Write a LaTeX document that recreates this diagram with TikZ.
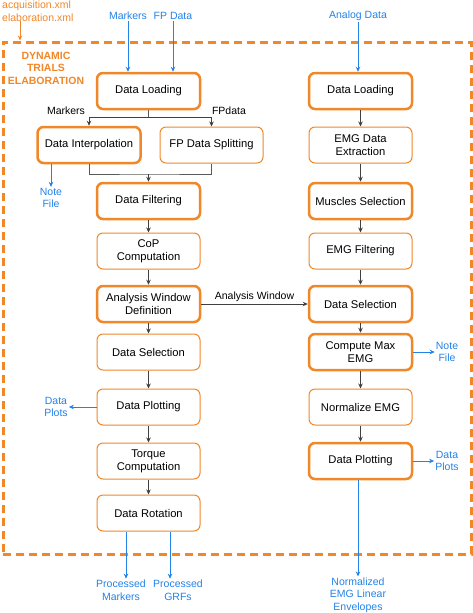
\documentclass[tikz,border=0pt]{standalone}
\usepackage{fontspec}
\setmainfont{Liberation Sans}
\usetikzlibrary{positioning,arrows.meta,shapes}
\definecolor{elabor}{RGB}{240,135,40}
\definecolor{elabblue}{RGB}{35,130,230}

\begin{document}
\begin{tikzpicture}[
  x=1pt, y=-1pt,
  font=\fontsize{11.2}{13}\selectfont,
  proc/.style={rectangle, rounded corners=6pt, draw=elabor, line width=1pt,
               minimum height=36pt, minimum width=103pt, inner sep=2pt, fill=white, align=center},
  keyproc/.style={proc, line width=2.5pt},
  io/.style={text=elabblue, align=center, inner sep=1pt, font=\fontsize{10.5}{12.5}\selectfont},
  tag/.style={inner sep=1pt, font=\fontsize{10.5}{12.5}\selectfont},
  flow/.style={-{Stealth[length=5pt,width=4.5pt]}, draw=black!75, line width=0.8pt},
  link/.style={draw=black!65, line width=0.8pt},
  ioflow/.style={-{Stealth[length=5pt,width=4.5pt]}, draw=elabblue, line width=0.8pt},
  xmlflow/.style={-{Stealth[length=5pt,width=4.5pt]}, draw=elabor, line width=0.8pt},
  frame/.style={draw=elabor, line width=3pt, dash pattern=on 8pt off 5pt}
]
\useasboundingbox (0,0) rectangle (473,613);

% outer frame and header
\node[frame, minimum width=468pt, minimum height=512pt, inner sep=0pt] (frame) at (237,298) {};
\node[text=elabor, align=left, anchor=west, inner sep=0pt,
      font=\fontsize{10.5}{12.5}\selectfont] (xmlfiles) at (2,11) {acquisition.xml\\elaboration.xml};
\node[text=elabor, align=center, inner sep=0pt,
      font=\fontsize{10.5}{12.5}\selectfont\bfseries] (title) at (46,68) {DYNAMIC\\TRIALS\\ELABORATION};
\draw[xmlflow] (xmlfiles.south -| 20,0) -- (frame.north -| 20,0);

% force plate / marker chain
\node[keyproc] (lload)   at (148.5, 91) {Data Loading};
\node[keyproc] (interp)  at (89,  145)  {Data Interpolation};
\node[proc]    (fpsplit) at (211.5,145) {FP Data Splitting};
\node[keyproc] (lfilt)   at (148.5,201) {Data Filtering};
\node[proc]    (cop)     at (148.5,251) {CoP\\Computation};
\node[keyproc] (awd)     at (148.5,304) {Analysis Window\\Definition};
\node[proc]    (lsel)    at (148.5,352) {Data Selection};
\node[proc]    (lplot)   at (148.5,407) {Data Plotting};
\node[proc]    (torque)  at (148.5,461) {Torque\\Computation};
\node[proc]    (rotate)  at (148.5,513) {Data Rotation};

% EMG chain
\node[keyproc] (rload)   at (360.5, 91) {Data Loading};
\node[proc]    (extract) at (360.5,145) {EMG Data\\Extraction};
\node[keyproc] (muscles) at (360.5,201) {Muscles Selection};
\node[proc]    (efilt)   at (360.5,251) {EMG Filtering};
\node[keyproc] (rsel)    at (360.5,304) {Data Selection};
\node[keyproc] (maxemg)  at (360.5,352) {Compute Max\\EMG};
\node[proc]    (norm)    at (360.5,407) {Normalize EMG};
\node[keyproc] (rplot)   at (360.5,461) {Data Plotting};

% inputs
\node[io] (inmark)   at (128,16) {Markers};
\node[io] (infp)     at (173,16) {FP Data};
\node[io] (inanalog) at (358,16) {Analog Data};
\draw[ioflow] (inmark) -- (lload.north -| inmark);
\draw[ioflow] (infp) -- (lload.north -| infp);
\draw[ioflow] (inanalog) -- (rload.north -| inanalog);

% split and merge
\coordinate (splitpt) at (148.5,117);
\coordinate (mergept) at (148.5,174);
\draw[link] (lload) -- (splitpt);
\draw[flow] (splitpt) -| (interp);
\draw[flow] (splitpt) -| (fpsplit);
\node[tag, anchor=south] (tmark) at (66,116) {Markers};
\node[tag, anchor=south] (tfp)   at (229,116) {FPdata};
\draw[link] (interp.south) |- (mergept) -| (fpsplit.south);
\draw[flow] (mergept) -- (lfilt);

\draw[flow] (lfilt) -- (cop);
\draw[flow] (cop) -- (awd);
\draw[flow] (awd) -- (lsel);
\draw[flow] (lsel) -- (lplot);
\draw[flow] (lplot) -- (torque);
\draw[flow] (torque) -- (rotate);

\draw[flow] (rload) -- (extract);
\draw[flow] (extract) -- (muscles);
\draw[flow] (muscles) -- (efilt);
\draw[flow] (efilt) -- (rsel);
\draw[flow] (rsel) -- (maxemg);
\draw[flow] (maxemg) -- (norm);
\draw[flow] (norm) -- (rplot);

\draw[flow] (awd) -- node[tag, above=1pt] (twin) {Analysis Window} (rsel);

% side outputs
\node[io] (lnote)  at (51,198)  {Note\\File};
\node[io] (lplots) at (56,407)  {Data\\Plots};
\node[io] (rnote)  at (447,352) {Note\\File};
\node[io] (rplots) at (447,461) {Data\\Plots};
\draw[ioflow] (interp.south -| lnote) -- (lnote);
\draw[ioflow] (lplot) -- (lplots);
\draw[ioflow] (maxemg) -- (rnote);
\draw[ioflow] (rplot) -- (rplots);

% final outputs
\node[io] (outmark) at (121,590) {Processed\\Markers};
\node[io] (outgrf)  at (178,590) {Processed\\GRFs};
\node[io] (outemg)  at (358,595) {Normalized\\EMG Linear\\Envelopes};
\draw[ioflow] (rotate.south -| 126,0) -- (outmark.north -| 126,0);
\draw[ioflow] (rotate.south -| 170,0) -- (outgrf.north -| 170,0);
\draw[ioflow] (rplot.south -| outemg) -- (outemg);
\end{tikzpicture}
\end{document}
